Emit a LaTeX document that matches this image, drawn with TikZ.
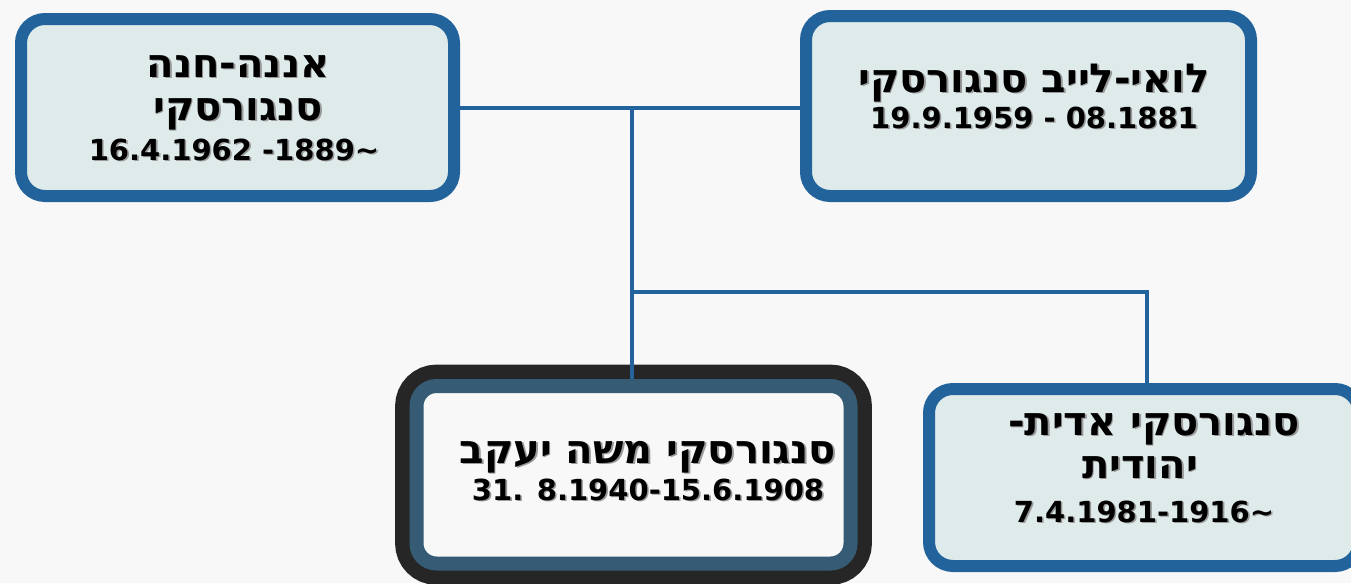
\documentclass[tikz,border=0pt]{standalone}
\usepackage{fontspec}
\TeXXeTstate=1
\setmainfont{DejaVu Sans}
\newfontfamily\hf[Script=Hebrew,Scale=1.38]{DejaVu Sans}
\definecolor{bgc}{HTML}{F8F8F8}
\definecolor{boxfill}{HTML}{DFEBEB}
\definecolor{bblue}{HTML}{21639A}
\definecolor{mblue}{HTML}{355C74}
\definecolor{mblack}{HTML}{262626}
\definecolor{shc}{HTML}{9A9A9A}
\newcommand{\tline}[4]{%
  \node[txt,text=shc] (#1s) at (#2+1.6,#3+1.6) {#4};
  \node[txt] (#1) at (#2,#3) {#4};}
\begin{document}
\begin{tikzpicture}[x=0.75pt,y=-0.75pt,
  personbox/.style={draw=bblue, line width=9pt, fill=boxfill, rounded corners=18pt,
    rectangle, inner sep=0pt},
  moshebox/.style={draw=mblue, line width=10.5pt, fill=bgc, rounded corners=15pt,
    rectangle, inner sep=0pt, preaction={draw=mblack, line width=32pt}},
  link/.style={draw=bblue, line width=3pt},
  txt/.style={anchor=base, inner sep=0pt, text=black,
    font=\bfseries\fontsize{21.75pt}{26pt}\selectfont}]
\fill[bgc] (0,0) rectangle (1351,583);
\useasboundingbox (0,0) rectangle (1351,583);
% boxes
\node[personbox, minimum width=433*0.75pt, minimum height=177*0.75pt] (A) at (237.5,107.5) {};
\node[personbox, minimum width=445*0.75pt, minimum height=180*0.75pt] (B) at (1028.5,106) {};
\node[personbox, minimum width=430*0.75pt, minimum height=177*0.75pt] (E) at (1144,477.5) {};
\node[moshebox, minimum width=434*0.75pt, minimum height=177.5*0.75pt] (M) at (633.5,474.75) {};
% connectors
\coordinate (J1) at (631.5,107);
\coordinate (J2) at (631.5,292);
\coordinate (K) at (1147,292);
\draw[link] (A.east) -- (A.east -| B.west);
\draw[link] (J1) -- (J1 |- M.north);
\draw[link] (J2) -- (K) -- (K |- E.north);
% texts
\tline{a1}{238}{77}{{\hf\beginR אננה-חנה\endR}}
\tline{a2}{238}{120}{{\hf\beginR סנגורסקי\endR}}
\tline{a3}{234}{160}{16.4.1962 -1889\textasciitilde}
\tline{b1}{1034}{92}{{\hf\beginR לואי-לייב סנגורסקי\endR}}
\tline{b2}{1034}{128}{19.9.1959 - 08.1881}
\tline{m1}{648}{463}{{\hf\beginR סנגורסקי משה יעקב\endR}}
\tline{m2}{648}{500}{31. 8.1940-15.6.1908}
\tline{e1}{1154}{435}{{\hf\beginR סנגורסקי אדית-\endR}}
\tline{e2}{1140}{478}{{\hf\beginR יהודית\endR}}
\tline{e3}{1144}{522}{7.4.1981-1916\textasciitilde}
\end{tikzpicture}
\end{document}
